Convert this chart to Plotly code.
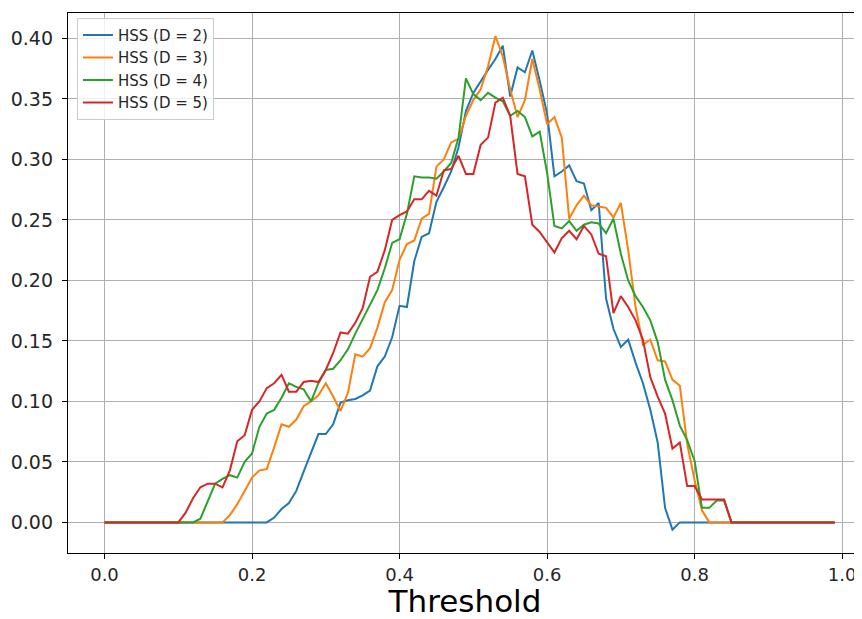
import plotly.graph_objects as go

thresholds = [i / 100 for i in range(100)]

hss_d2 = [0, 0, 0, 0, 0, 0, 0, 0, 0, 0,
          0, 0, 0, 0, 0, 0, 0, 0, 0, 0,
          0, 0, 0, 0.004, 0.011, 0.016, 0.026, 0.042, 0.058, 0.073,
          0.073, 0.081, 0.099, 0.101, 0.102, 0.105, 0.109, 0.129, 0.137, 0.153,
          0.179, 0.178, 0.216, 0.236, 0.239, 0.265, 0.277, 0.290, 0.310, 0.340,
          0.355, 0.365, 0.374, 0.383, 0.394, 0.352, 0.376, 0.372, 0.390, 0.365,
          0.338, 0.286, 0.290, 0.295, 0.282, 0.280, 0.258, 0.264, 0.185, 0.160,
          0.145, 0.151, 0.132, 0.115, 0.093, 0.066, 0.012, -0.006, 0, 0,
          0, 0, 0, 0, 0, 0, 0, 0, 0, 0,
          0, 0, 0, 0, 0, 0, 0, 0, 0, 0]

hss_d3 = [0, 0, 0, 0, 0, 0, 0, 0, 0, 0,
          0, 0, 0, 0, 0, 0, 0, 0.006, 0.015, 0.026,
          0.037, 0.043, 0.044, 0.062, 0.081, 0.079, 0.085, 0.096, 0.100, 0.105,
          0.115, 0.104, 0.092, 0.107, 0.139, 0.137, 0.144, 0.161, 0.182, 0.192,
          0.217, 0.230, 0.233, 0.251, 0.255, 0.294, 0.300, 0.314, 0.317, 0.336,
          0.349, 0.358, 0.377, 0.402, 0.385, 0.358, 0.335, 0.349, 0.383, 0.358,
          0.329, 0.335, 0.318, 0.251, 0.262, 0.270, 0.262, 0.261, 0.260, 0.252,
          0.264, 0.225, 0.178, 0.147, 0.151, 0.134, 0.133, 0.118, 0.113, 0.065,
          0.035, 0.010, 0, 0, 0, 0, 0, 0, 0, 0,
          0, 0, 0, 0, 0, 0, 0, 0, 0, 0]

hss_d4 = [0, 0, 0, 0, 0, 0, 0, 0, 0, 0,
          0, 0, 0, 0.003, 0.017, 0.032, 0.036, 0.039, 0.037, 0.050,
          0.057, 0.079, 0.090, 0.093, 0.103, 0.115, 0.112, 0.110, 0.100, 0.115,
          0.126, 0.127, 0.134, 0.143, 0.156, 0.168, 0.180, 0.192, 0.210, 0.231,
          0.234, 0.255, 0.286, 0.285, 0.285, 0.284, 0.290, 0.297, 0.318, 0.367,
          0.354, 0.349, 0.355, 0.351, 0.348, 0.336, 0.340, 0.335, 0.319, 0.323,
          0.289, 0.245, 0.243, 0.249, 0.241, 0.246, 0.248, 0.247, 0.239, 0.251,
          0.222, 0.200, 0.187, 0.178, 0.167, 0.149, 0.118, 0.101, 0.080, 0.068,
          0.051, 0.012, 0.012, 0.018, 0.018, 0, 0, 0, 0, 0,
          0, 0, 0, 0, 0, 0, 0, 0, 0, 0]

hss_d5 = [0, 0, 0, 0, 0, 0, 0, 0, 0, 0,
          0, 0.008, 0.020, 0.029, 0.032, 0.032, 0.029, 0.043, 0.067, 0.072,
          0.093, 0.100, 0.111, 0.115, 0.122, 0.108, 0.108, 0.116, 0.117, 0.116,
          0.126, 0.140, 0.157, 0.156, 0.165, 0.177, 0.203, 0.207, 0.225, 0.250,
          0.254, 0.257, 0.267, 0.267, 0.274, 0.270, 0.291, 0.292, 0.303, 0.288,
          0.288, 0.312, 0.318, 0.347, 0.351, 0.336, 0.288, 0.286, 0.246, 0.240,
          0.232, 0.223, 0.235, 0.241, 0.234, 0.245, 0.238, 0.222, 0.220, 0.173,
          0.187, 0.178, 0.167, 0.151, 0.120, 0.104, 0.090, 0.061, 0.066, 0.030,
          0.030, 0.019, 0.019, 0.019, 0.019, 0, 0, 0, 0, 0,
          0, 0, 0, 0, 0, 0, 0, 0, 0, 0]

series_names = ["HSS (D = 2)", "HSS (D = 3)", "HSS (D = 4)", "HSS (D = 5)"]
series_values = [hss_d2, hss_d3, hss_d4, hss_d5]
colors = ["#1f77b4", "#ff7f0e", "#2ca02c", "#d62728"]

x_ticks = [0.0, 0.2, 0.4, 0.6, 0.8, 1.0]
y_ticks = [0.00, 0.05, 0.10, 0.15, 0.20, 0.25, 0.30, 0.35, 0.40]

fig = go.Figure()
for name, vals, col in zip(series_names, series_values, colors):
    fig.add_trace(go.Scatter(x=thresholds, y=vals, mode="lines", name=name,
                             line=dict(color=col, width=2)))

font_family = "DejaVu Sans"
# the page body has an 8px margin, so the figure is sized to fill the rest of the window
fig.update_layout(
    width=854, height=611,
    margin=dict(l=60, r=0, t=5, b=66),
    paper_bgcolor="white", plot_bgcolor="white",
    font=dict(family=font_family, color="#262626"),
    showlegend=True,
    legend=dict(
        x=0.0113, y=0.991, xanchor="left", yanchor="top",
        bgcolor="rgba(255,255,255,0.8)", bordercolor="#cccccc", borderwidth=1,
        font=dict(family=font_family, size=15, color="#262626"),
        itemwidth=30,
    ),
)
fig.update_xaxes(
    range=[-0.0495, 1.027], automargin=False,
    tickvals=x_ticks, ticktext=[f"{v:.1f}" for v in x_ticks],
    showgrid=True, gridcolor="#b0b0b0", gridwidth=1.3,
    zeroline=False,
    showline=True, linecolor="black", linewidth=1.3, mirror=True,
    ticks="outside", ticklen=5, tickcolor="black", tickwidth=1.3,
    tickfont=dict(size=18, family=font_family, color="#262626"),
    title=dict(text="Threshold", font=dict(size=31, family=font_family, color="black"), standoff=4),
)
fig.update_yaxes(
    range=[-0.0253, 0.421], automargin=False,
    tickvals=y_ticks, ticktext=[f"{v:.2f}" for v in y_ticks],
    showgrid=True, gridcolor="#b0b0b0", gridwidth=1.3,
    zeroline=False,
    showline=True, linecolor="black", linewidth=1.3,
    ticks="outside", ticklen=5, tickcolor="black", tickwidth=1.3,
    ticklabelstandoff=5,
    tickfont=dict(size=19, family=font_family, color="#262626"),
)

fig.write_html("out.html")
